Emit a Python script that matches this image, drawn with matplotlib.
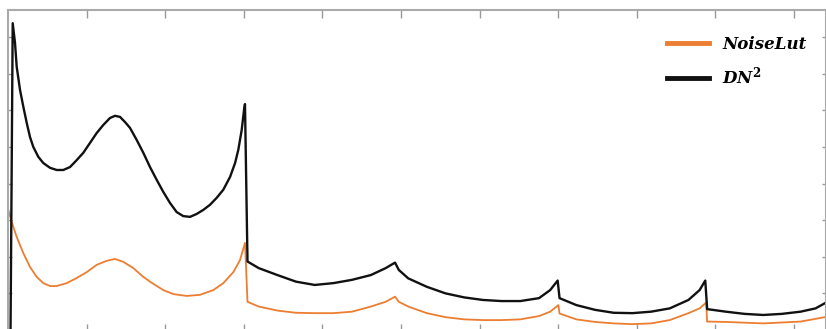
import matplotlib.pyplot as plt

plt.rcParams['mathtext.fontset'] = 'dejavuserif'

# values (x: channel, y: noise level in tick units)
dn2_x = [3.2, 5.98, 8.91, 11.07, 15.27, 19.47, 23.79, 27.99, 32.19, 38.55, 44.91, 53.44, 61.96, 70.36,
         78.88, 87.41, 95.81, 104.33, 112.85, 121.25, 129.77, 136.14, 142.5, 148.86, 155.22, 163.75,
         172.15, 180.67, 189.2, 197.6, 206.1, 214.6, 223.0, 231.6, 240.1, 248.5, 257.0, 265.5, 273.9,
         282.5, 288.9, 293.0, 297.3, 300.3, 301.5,
         304.7, 319.0, 342.8, 366.4, 390.2, 414.0, 437.7, 461.6, 480.5, 492.4,
         497.2, 509.2, 532.8, 556.6, 580.4, 604.2, 628.0, 651.8, 675.6, 689.8, 699.3,
         701.7, 723.1, 746.9, 770.6, 794.4, 818.1, 841.9, 865.7, 879.9, 887.1,
         889.5, 913.3, 937.1, 960.8, 984.5, 1008.3, 1027.4, 1039.2]
dn2_y = [-0.1, 8.38, 7.84, 7.19, 6.56, 6.10, 5.66, 5.27, 5.0, 4.73, 4.56, 4.43, 4.37, 4.37,
         4.45, 4.64, 4.84, 5.11, 5.38, 5.60, 5.79, 5.85, 5.82, 5.68, 5.52, 5.19,
         4.84, 4.45, 4.10, 3.77, 3.47, 3.22, 3.11, 3.09, 3.17, 3.28, 3.42, 3.61, 3.83,
         4.18, 4.56, 4.92, 5.46, 6.01, 6.17,
         1.87, 1.69, 1.50, 1.32, 1.23, 1.28, 1.37, 1.50, 1.69, 1.84,
         1.64, 1.41, 1.18, 1.00, 0.89, 0.82, 0.79, 0.79, 0.87, 1.09, 1.35,
         0.87, 0.68, 0.55, 0.47, 0.46, 0.50, 0.59, 0.82, 1.09, 1.35,
         0.57, 0.50, 0.44, 0.41, 0.44, 0.50, 0.59, 0.73]

lut_x = [0.38, 4.71, 11.07, 19.47, 27.99, 36.51, 44.91, 53.44, 61.96, 74.69, 87.41, 100.13, 112.85,
         125.58, 136.14, 146.70, 159.42, 172.15, 184.87, 197.59, 210.31, 227.36, 244.28, 261.20,
         273.93, 286.65, 295.18, 301.54,
         304.7, 319.0, 342.8, 366.4, 390.2, 414.0, 437.7, 461.6, 480.5, 492.4,
         497.2, 509.2, 532.8, 556.6, 580.4, 604.2, 628.0, 651.8, 675.6, 689.8, 700.2,
         701.7, 723.1, 746.9, 770.6, 794.4, 818.1, 841.9, 865.7, 879.9, 888.3,
         889.4, 913.3, 960.6, 1008.3, 1039.2]
lut_y = [3.28, 2.95, 2.54, 2.10, 1.72, 1.45, 1.28, 1.20, 1.20, 1.28, 1.42, 1.58, 1.78,
         1.89, 1.94, 1.86, 1.69, 1.45, 1.26, 1.09, 0.98, 0.93, 0.96, 1.09,
         1.28, 1.58, 1.91, 2.38,
         0.77, 0.64, 0.53, 0.47, 0.46, 0.46, 0.50, 0.64, 0.77, 0.91,
         0.77, 0.64, 0.46, 0.35, 0.29, 0.27, 0.27, 0.29, 0.38, 0.50, 0.68,
         0.45, 0.29, 0.22, 0.18, 0.16, 0.18, 0.27, 0.46, 0.59, 0.75,
         0.23, 0.22, 0.18, 0.23, 0.35]

fig = plt.figure(figsize=(8.26, 3.29), dpi=100)
ax = fig.add_axes([8/826, -3/329, 818/826, 322/329])

ax.plot(lut_x, lut_y, color='#ED7D31', lw=1.3, solid_joinstyle='round', label='NoiseLut')
ax.plot(dn2_x, dn2_y, color='#111111', lw=1.7, solid_joinstyle='round', label=r'DN$^{\mathbf{2}}$')

ax.set_xlim(0, 1040.7)
ax.set_ylim(-0.055, 8.74)
ax.set_xticks(range(100, 1100, 100))
ax.set_yticks(range(0, 9))
ax.set_xticklabels([])
ax.set_yticklabels([])
ax.tick_params(axis='x', direction='in', top=True, length=6, width=1, color='#999999')
ax.tick_params(axis='y', direction='in', right=True, length=3, width=1, color='#999999')
for s in ax.spines.values():
    s.set_color('#aaaaaa')
    s.set_linewidth(1.5)

leg = ax.legend(loc='upper left', bbox_to_anchor=(667/826, 1 - 36/329), bbox_transform=fig.transFigure,
                frameon=False, borderpad=0, borderaxespad=0, handlelength=2.5, handletextpad=0.8,
                labelspacing=0.75, prop={'family': 'DejaVu Serif', 'weight': 'bold', 'style': 'italic', 'size': 12})
for l in leg.get_lines():
    l.set_linewidth(3.5)

fig.savefig('out.png', dpi=100)
